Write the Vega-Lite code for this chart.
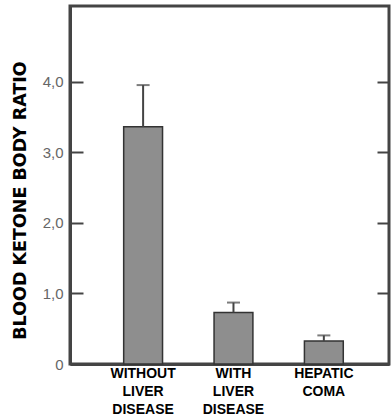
{
  "$schema": "https://vega.github.io/schema/vega-lite/v6.json",
  "width": 319,
  "height": 358,
  "autosize": {"type": "none"},
  "padding": {"left": 70, "top": 6, "right": 2, "bottom": 54},
  "background": "white",
  "view": {"stroke": "#444", "strokeWidth": 3},
  "data": {
    "values": [
      {"group": "WITHOUT LIVER DISEASE", "ratio": 3.36, "upper": 3.95},
      {"group": "WITH LIVER DISEASE", "ratio": 0.73, "upper": 0.87},
      {"group": "HEPATIC COMA", "ratio": 0.325, "upper": 0.405}
    ]
  },
  "encoding": {
    "x": {
      "field": "group",
      "type": "nominal",
      "sort": null,
      "scale": {"paddingInner": 0.57, "paddingOuter": 0.55, "align": 0.54},
      "axis": {
        "title": null,
        "labelAngle": 0,
        "labelExpr": "split(datum.label, ' ')",
        "labelFont": "Liberation Sans",
        "labelFontWeight": "bold",
        "labelFontSize": 14,
        "labelLineHeight": 18,
        "labelColor": "#000",
        "labelBaseline": "top",
        "labelPadding": 2,
        "ticks": false,
        "domainColor": "#444",
        "domainWidth": 3
      }
    }
  },
  "layer": [
    {
      "mark": {"type": "bar", "fill": "#8e8e8e", "stroke": "#333", "strokeWidth": 1.5},
      "encoding": {
        "y": {
          "field": "ratio",
          "type": "quantitative",
          "scale": {"domain": [0, 5.07], "nice": false},
          "axis": {
            "orient": "left",
            "title": "BLOOD KETONE BODY RATIO",
            "titleFont": "DejaVu Sans",
            "titleFontWeight": "bold",
            "titleFontSize": 17.5,
            "titleColor": "#000",
            "titleAngle": -90,
            "titleAlign": "center",
            "titleBaseline": "middle",
            "titleX": -50,
            "titleY": 194,
            "values": [0, 1, 2, 3, 4],
            "labelExpr": "datum.value == 0 ? '0' : replace(format(datum.value, '.1f'), '.', ',')",
            "labelFont": "Liberation Sans",
            "labelFontSize": 15,
            "labelColor": "#666",
            "tickSize": -13,
            "tickWidth": 2,
            "tickColor": "#444",
            "labelPadding": 20,
            "domainColor": "#444",
            "domainWidth": 3,
            "grid": false
          }
        }
      }
    },
    {
      "mark": {"type": "rule", "stroke": "#444", "strokeWidth": 2},
      "encoding": {
        "y": {
          "field": "ratio",
          "type": "quantitative",
          "axis": {
            "orient": "right",
            "title": null,
            "labels": false,
            "domain": false,
            "values": [0, 1, 2, 3, 4],
            "tickSize": -12,
            "tickWidth": 2,
            "tickColor": "#444",
            "grid": false
          }
        },
        "y2": {"field": "upper"}
      }
    },
    {
      "mark": {"type": "tick", "color": "#444", "thickness": 2, "size": 13, "orient": "horizontal"},
      "encoding": {
        "y": {"field": "upper", "type": "quantitative", "axis": null}
      }
    }
  ],
  "resolve": {"axis": {"y": "independent"}}
}
